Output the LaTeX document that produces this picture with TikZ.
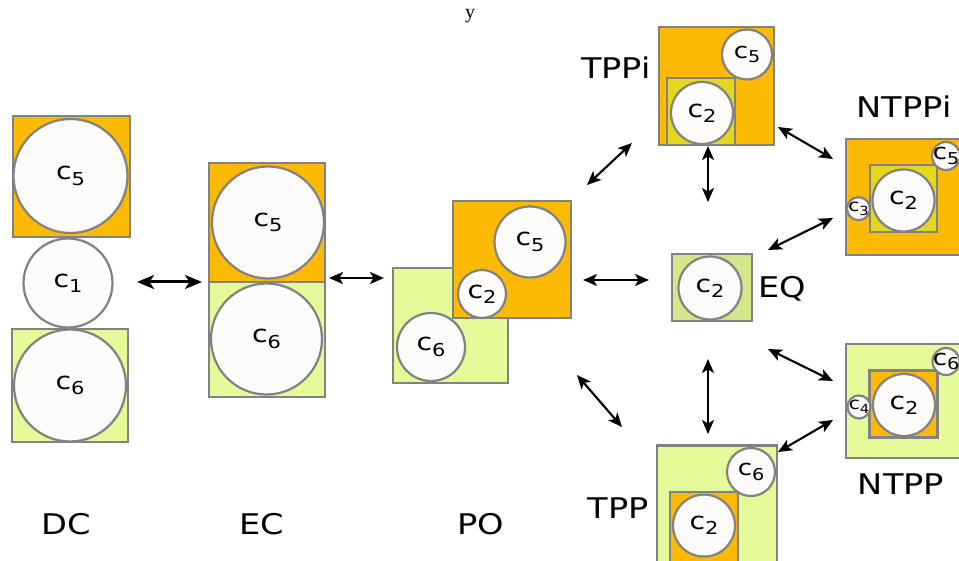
\documentclass[tikz,border=0pt]{standalone}
\usepackage{fontspec}
\setmainfont[FakeStretch=1.18]{DejaVu Sans}
\newfontfamily\seriffont{Liberation Serif}
\usepackage{graphicx}
\usetikzlibrary{arrows.meta}
\definecolor{corange}{RGB}{252,186,3}
\definecolor{cgreen}{RGB}{229,250,153}
\definecolor{cyellow}{RGB}{228,216,28}
\definecolor{ceq}{RGB}{212,230,138}
\definecolor{cgray}{RGB}{130,130,130}
\definecolor{cwhite}{RGB}{254,252,250}
\newcommand{\cc}[1]{c\raisebox{-0.22em}{\scalebox{0.74}{#1}}}
\tikzset{
  sq/.style n args={2}{rectangle, draw=cgray, line width=2.6pt, inner sep=0pt, outer sep=0pt, minimum width=#1, minimum height=#2},
  circ/.style={circle, draw=cgray, fill=cwhite, line width=2.2pt, inner sep=0pt, outer sep=0pt, minimum size=#1},
  big/.style={label={[font=\fontsize{24}{24}\selectfont]center:#1}},
  mid/.style={label={[font=\fontsize{22}{22}\selectfont]center:#1}},
  small/.style={label={[font=\fontsize{17}{17}\selectfont]center:#1}},
  rel/.style={font=\fontsize{28.5}{28.5}\selectfont, text depth=0pt, inner sep=0pt},
  arr/.style={{Stealth[length=14pt,width=12pt,inset=3.5pt]}-{Stealth[length=14pt,width=12pt,inset=3.5pt]}, line width=2.1pt, black},
  arrthick/.style={{Stealth[length=17pt,width=14pt,inset=4.5pt]}-{Stealth[length=17pt,width=14pt,inset=4.5pt]}, line width=3pt, black},
}
\begin{document}
\begin{tikzpicture}[x=1pt,y=-1pt]
\useasboundingbox (0,0) rectangle (959,561);
\clip (0,0) rectangle (959,561);
% title
\node[font=\seriffont\fontsize{20}{20}\selectfont, anchor=base, inner sep=0pt] (ylab) at (470,19) {y};
% DC
\node[sq={117}{121}, fill=corange] (dc5sq) at (71.5,176.5) {};
\node[circ=114, big=\cc5] (dc5) at (70.5,176) {};
\node[circ=89, big=\cc1] (dc1) at (68,283) {};
\node[sq={116}{113}, fill=cgreen] (dc6sq) at (70,385.5) {};
\node[circ=112, big=\cc6] (dc6) at (70,385.5) {};
% EC
\node[sq={116}{119}, fill=corange] (ec5sq) at (267,222.5) {};
\node[circ=112, big=\cc5] (ec5) at (268,222.5) {};
\node[sq={116}{115}, fill=cgreen] (ec6sq) at (267,339.5) {};
\node[circ=111, big=\cc6] (ec6) at (266.5,339) {};
% PO
\node[sq={115}{115}, fill=cgreen] (pogsq) at (450.5,325.5) {};
\node[sq={118}{117}, fill=corange] (posq) at (512,259.5) {};
\node[circ=71, big=\cc5] (po5) at (530,242) {};
\node[circ=48, big=\cc2] (po2) at (482,294) {};
\node[circ=68, big=\cc6] (po6) at (431,347) {};
% TPPi
\node[sq={115}{118}, fill=corange] (tppisq) at (716.5,86) {};
\node[sq={68}{67}, fill=cyellow] (tppiin) at (701,111.5) {};
\node[circ=62, big=\cc2] (tppi2) at (702,113) {};
\node[circ=50, mid=\cc5] (tppi5) at (747,54.5) {};
\node[rel] (tppilab) at (616,68) {TPPi};
% NTPPi
\node[sq={124}{116}, fill=corange] (ntppisq) at (908,197) {};
\node[sq={67}{67}, fill=cyellow] (ntppiin) at (903.5,198.5) {};
\node[circ=62, big=\cc2] (ntppi2) at (903.5,200.5) {};
\node[circ=23, small=\cc3] (ntppi3) at (858.5,208.7) {};
\node[circ=28, mid=\cc5] (ntppi5) at (946,156) {};
\node[rel] (ntppilab) at (904,107) {NTPPi};
% EQ
\node[sq={80}{67}, fill=ceq] (eqsq) at (712,287.5) {};
\node[circ=63, big=\cc2] (eq2) at (710,288) {};
\node[rel] (eqlab) at (782,287) {EQ};
% NTPP
\node[sq={124}{114}, fill=cgreen] (ntppsq) at (908,401) {};
\node[sq={68}{66.5}, fill=corange] (ntppin) at (903.5,404) {};
\node[circ=62, big=\cc2] (ntpp2) at (904,405) {};
\node[circ=23, small=\cc4] (ntpp4) at (859,407) {};
\node[circ=27, mid=\cc6] (ntpp6) at (946,361.5) {};
\node[rel] (ntpplab) at (901,484) {NTPP};
% TPP
\node[sq={120}{129}, fill=cgreen] (tppsq) at (717,510) {};
\node[sq={68}{83}, fill=corange] (tppin) at (704,533.5) {};
\node[circ=62, big=\cc2] (tpp2) at (704,525.6) {};
\node[circ=48, mid=\cc6] (tpp6) at (751,472) {};
\node[rel] (tpplab) at (618,508) {TPP};
% bottom labels
\node[rel] (dclab) at (66,524) {DC};
\node[rel] (eclab) at (262,524) {EC};
\node[rel] (polab) at (481,524) {PO};
% arrow end points
\coordinate (a1s) at (137,282); \coordinate (a1e) at (202,282);
\coordinate (a2s) at (329,278); \coordinate (a2e) at (384,278);
\coordinate (a3s) at (583,280); \coordinate (a3e) at (649,280);
\coordinate (a4s) at (587,185); \coordinate (a4e) at (632,143);
\coordinate (a5s) at (708,146); \coordinate (a5e) at (708,202);
\coordinate (a6s) at (778,127); \coordinate (a6e) at (833,159);
\coordinate (a7s) at (768,250); \coordinate (a7e) at (833,218);
\coordinate (a8s) at (768,349); \coordinate (a8e) at (833,381);
\coordinate (a9s) at (708,359); \coordinate (a9e) at (708,434);
\coordinate (a10s) at (577,375); \coordinate (a10e) at (622,427);
\coordinate (a11s) at (778,452); \coordinate (a11e) at (833,420);
\draw[arrthick] (a1s) -- (a1e);
\draw[arr] (a2s) -- (a2e);
\draw[arr] (a3s) -- (a3e);
\draw[arr] (a4s) -- (a4e);
\draw[arr] (a5s) -- (a5e);
\draw[arr] (a6s) -- (a6e);
\draw[arr] (a7s) -- (a7e);
\draw[arr] (a8s) -- (a8e);
\draw[arr] (a9s) -- (a9e);
\draw[arr] (a10s) -- (a10e);
\draw[arr] (a11s) -- (a11e);
\end{tikzpicture}
\end{document}
